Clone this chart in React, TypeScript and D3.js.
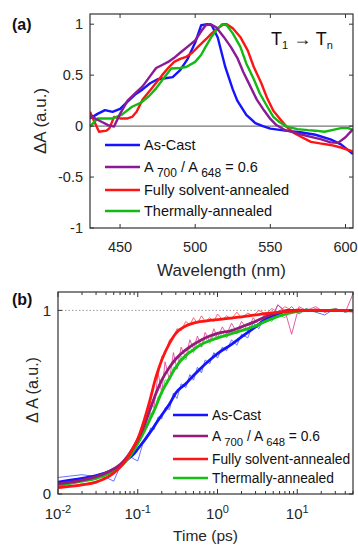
import React, { useRef, useEffect } from 'react';
import * as d3 from 'd3';

// ---------- panel (a): T1 -> Tn spectra ----------
const asCastWl = [430, 435, 440, 445, 450, 455, 460, 465, 470, 475, 480, 485, 490, 495, 500, 504, 508, 511, 515, 520, 525, 528, 534, 540, 545, 550, 560, 570, 580, 590, 597, 605];
const asCastDA = [0.075, 0.12, 0.157, 0.14, 0.17, 0.24, 0.31, 0.36, 0.42, 0.46, 0.47, 0.48, 0.55, 0.66, 0.82, 0.99, 1.0, 0.99, 0.87, 0.58, 0.36, 0.25, 0.11, 0.03, 0.0, -0.025, -0.045, -0.06, -0.085, -0.13, -0.18, -0.275];

const ratioWl = [430, 434, 438, 442, 446, 450, 455, 460, 465, 470, 474, 478, 482, 486, 490, 495, 500, 504, 507, 510, 514, 519, 524, 528, 532, 537, 541, 546, 550, 554, 560, 565, 570, 577, 584, 590, 595, 600, 605];
const ratioDA = [0.11, 0.07, 0.04, 0.01, -0.005, 0.12, 0.25, 0.32, 0.39, 0.49, 0.57, 0.6, 0.63, 0.67, 0.72, 0.78, 0.84, 0.93, 0.99, 1.0, 0.97, 0.875, 0.77, 0.67, 0.53, 0.38, 0.26, 0.15, 0.07, 0.01, -0.04, -0.06, -0.08, -0.105, -0.13, -0.16, -0.165, -0.11, -0.03];

const solventWl = [430, 433, 436, 441, 443, 446, 450, 455, 458, 461, 465, 471, 478, 482, 486, 490, 494, 498, 502, 507, 511, 515, 519, 521, 525, 530, 535, 539, 544, 548, 552, 557, 561, 566, 571, 577, 583, 590, 597, 605];
const solventDA = [0.14, 0.04, -0.055, -0.045, -0.02, 0.09, 0.075, 0.075, 0.09, 0.14, 0.26, 0.37, 0.5, 0.57, 0.63, 0.66, 0.68, 0.72, 0.78, 0.85, 0.91, 0.96, 1.0, 1.0, 0.96, 0.875, 0.74, 0.58, 0.42, 0.27, 0.15, 0.06, -0.01, -0.07, -0.11, -0.155, -0.17, -0.185, -0.21, -0.25];

const thermalWl = [430, 435, 440, 445, 451, 458, 464, 469, 474, 478, 484, 490, 494, 500, 504, 507, 511, 514, 518, 521, 525, 530, 534, 539, 543, 548, 552, 556, 561, 568, 575, 580, 586, 591, 597, 602, 605];
const thermalDA = [-0.005, 0.075, 0.075, 0.075, 0.11, 0.19, 0.23, 0.29, 0.37, 0.45, 0.565, 0.57, 0.58, 0.63, 0.7, 0.78, 0.88, 0.94, 1.0, 0.99, 0.91, 0.78, 0.615, 0.46, 0.32, 0.19, 0.09, 0.04, -0.005, -0.03, -0.04, -0.045, -0.055, -0.04, -0.02, -0.02, -0.04];

const wlTicks = [450, 500, 550, 600];
const daTicks = [-1, -0.5, 0, 0.5, 1];

// ---------- panel (b): kinetics ----------
const fitTime = [0.01, 0.02, 0.03, 0.045, 0.06, 0.07, 0.09, 0.1, 0.12, 0.14, 0.17, 0.2, 0.25, 0.3, 0.4, 0.5, 0.6, 0.8, 1, 1.5, 2, 3, 4, 6, 8, 10, 15, 20, 50];
const fitAsCast = [0.065, 0.085, 0.1, 0.125, 0.155, 0.18, 0.22, 0.245, 0.29, 0.33, 0.385, 0.43, 0.49, 0.55, 0.6, 0.645, 0.68, 0.73, 0.765, 0.815, 0.855, 0.91, 0.95, 0.985, 1.0, 1.0, 1.0, 1.0, 1.0];
const fitRatio = [0.055, 0.075, 0.095, 0.125, 0.16, 0.19, 0.26, 0.295, 0.37, 0.45, 0.55, 0.62, 0.69, 0.735, 0.785, 0.815, 0.835, 0.86, 0.875, 0.89, 0.91, 0.94, 0.965, 0.99, 1.0, 1.0, 1.0, 1.0, 1.0];
const fitSolvent = [0.035, 0.05, 0.065, 0.1, 0.145, 0.18, 0.26, 0.3, 0.4, 0.5, 0.64, 0.73, 0.82, 0.875, 0.915, 0.93, 0.938, 0.945, 0.95, 0.958, 0.965, 0.975, 0.982, 0.99, 0.995, 0.998, 1.0, 1.0, 1.0];
const fitThermal = [0.045, 0.07, 0.085, 0.115, 0.15, 0.175, 0.24, 0.275, 0.34, 0.4, 0.48, 0.555, 0.63, 0.69, 0.755, 0.785, 0.81, 0.835, 0.85, 0.873, 0.89, 0.915, 0.94, 0.97, 0.985, 0.995, 1.0, 1.0, 1.0];

const rawTime = [0.01, 0.02, 0.03, 0.04, 0.05, 0.06, 0.07, 0.08, 0.09, 0.1, 0.115, 0.13, 0.145, 0.16, 0.18, 0.2, 0.22, 0.25, 0.28, 0.31, 0.35, 0.4, 0.45, 0.5, 0.56, 0.63, 0.7, 0.8, 0.9, 1.0, 1.15, 1.3, 1.5, 1.75, 2.0, 2.4, 2.8, 3.3, 4.0, 4.8, 5.7, 7.0, 8.5, 10.5, 13, 17, 22, 30, 40, 50];
const rawAsCast = [0.09, 0.105, 0.095, 0.09, 0.07, 0.15, 0.17, 0.205, 0.19, 0.18, 0.27, 0.3, 0.36, 0.35, 0.42, 0.41, 0.47, 0.46, 0.55, 0.52, 0.6, 0.58, 0.65, 0.62, 0.69, 0.66, 0.73, 0.71, 0.77, 0.74, 0.8, 0.78, 0.84, 0.81, 0.87, 0.85, 0.93, 0.9, 0.98, 0.96, 1.03, 0.99, 1.02, 0.98, 1.01, 0.99, 0.975, 1.01, 0.99, 1.0];
const rawRatio = [0.045, 0.07, 0.1, 0.12, 0.14, 0.15, 0.2, 0.22, 0.27, 0.29, 0.37, 0.4, 0.5, 0.47, 0.66, 0.55, 0.72, 0.62, 0.77, 0.68, 0.8, 0.74, 0.84, 0.79, 0.86, 0.8, 0.88, 0.83, 0.9, 0.85, 0.91, 0.87, 0.93, 0.88, 0.94, 0.89, 0.96, 0.92, 0.99, 0.95, 1.03, 1.0, 0.87, 1.02, 1.0, 1.02, 0.99, 1.01, 0.99, 1.09];
const rawSolvent = [0.03, 0.055, 0.06, 0.09, 0.105, 0.15, 0.17, 0.23, 0.25, 0.31, 0.36, 0.46, 0.51, 0.6, 0.64, 0.75, 0.76, 0.84, 0.85, 0.9, 0.89, 0.94, 0.92, 0.96, 0.93, 0.97, 0.94, 0.96, 0.94, 0.98, 0.95, 0.97, 0.955, 0.99, 0.96, 0.985, 0.97, 1.0, 0.98, 1.01, 0.99, 1.02, 1.0, 1.01, 0.995, 1.01, 0.99, 1.0, 0.995, 0.99];
const rawThermal = [0.05, 0.07, 0.08, 0.1, 0.13, 0.15, 0.18, 0.2, 0.25, 0.27, 0.34, 0.36, 0.44, 0.44, 0.53, 0.54, 0.62, 0.62, 0.69, 0.68, 0.75, 0.73, 0.8, 0.77, 0.83, 0.8, 0.85, 0.82, 0.87, 0.84, 0.88, 0.85, 0.9, 0.87, 0.91, 0.89, 0.93, 0.91, 0.96, 0.94, 0.98, 0.96, 1.0, 0.99, 1.01, 0.99, 1.0, 1.01, 0.99, 1.0];

const timeTicks = [0.01, 0.1, 1, 10];
const timeExponents = ['-2', '-1', '0', '1'];
const kinTicks = [0, 1];

const seriesNames = ['As-Cast', 'ratio', 'Fully solvent-annealed', 'Thermally-annealed'];
const colors = ['#1414ff', '#8a1a96', '#ff1414', '#14b814'];
const fitColors = ['#1414ff', '#981a78', '#ff1414', '#14c014'];
const rawColors = ['#4a5aff', '#e0409a', '#ff4a4a', '#3ccc3c'];

const FONT = "'Liberation Sans', Arial, sans-serif";
const INK = '#262626';

const App = () => {
    const svgRef = useRef(null);

    useEffect(() => {
        const svg = d3.select(svgRef.current);
        svg.selectAll('*').remove();

        // ---------------- panel (a) ----------------
        const a = { left: 90, right: 353, top: 14, bottom: 228 };
        const xA = d3.scaleLinear().domain([430, 605]).range([a.left, a.right]);
        const yA = d3.scaleLinear().domain([-1, 1.1]).range([a.bottom, a.top]);

        const gA = svg.append('g');
        gA.append('defs').append('clipPath').attr('id', 'clipA')
            .append('rect').attr('x', a.left).attr('y', a.top)
            .attr('width', a.right - a.left).attr('height', a.bottom - a.top);

        // zero line
        gA.append('line')
            .attr('x1', a.left).attr('x2', a.right)
            .attr('y1', yA(0)).attr('y2', yA(0))
            .attr('stroke', '#555').attr('stroke-width', 1);

        const specs = [
            [asCastWl, asCastDA],
            [ratioWl, ratioDA],
            [solventWl, solventDA],
            [thermalWl, thermalDA],
        ];
        const lineA = d3.line<number>()
            .x(d => d[0])
            .y(d => d[1]);
        // draw order: blue, red, green, purple to mimic the overlap
        [0, 2, 3, 1].forEach(i => {
            const [wl, da] = specs[i];
            const pts = wl.map((w, k) => [xA(w), yA(da[k])]);
            gA.append('path')
                .attr('d', lineA(pts as any))
                .attr('fill', 'none')
                .attr('stroke', colors[i])
                .attr('stroke-width', 2.4)
                .attr('stroke-linejoin', 'round')
                .attr('clip-path', 'url(#clipA)');
        });

        // box + ticks
        gA.append('rect')
            .attr('x', a.left).attr('y', a.top)
            .attr('width', a.right - a.left).attr('height', a.bottom - a.top)
            .attr('fill', 'none').attr('stroke', '#333').attr('stroke-width', 1.2);

        wlTicks.forEach(t => {
            gA.append('line').attr('x1', xA(t)).attr('x2', xA(t))
                .attr('y1', a.bottom).attr('y2', a.bottom - 4).attr('stroke', '#333');
            gA.append('line').attr('x1', xA(t)).attr('x2', xA(t))
                .attr('y1', a.top).attr('y2', a.top + 4).attr('stroke', '#333');
            gA.append('text').attr('x', xA(t)).attr('y', a.bottom + 24)
                .attr('text-anchor', 'middle').attr('font-size', 14.5)
                .attr('font-family', FONT).attr('fill', INK).text(t);
        });
        daTicks.forEach(t => {
            gA.append('line').attr('x1', a.left).attr('x2', a.left + 4)
                .attr('y1', yA(t)).attr('y2', yA(t)).attr('stroke', '#333');
            gA.append('line').attr('x1', a.right).attr('x2', a.right - 4)
                .attr('y1', yA(t)).attr('y2', yA(t)).attr('stroke', '#333');
            gA.append('text').attr('x', a.left - 7).attr('y', yA(t))
                .attr('dy', '0.36em')
                .attr('text-anchor', 'end').attr('font-size', 14.5)
                .attr('font-family', FONT).attr('fill', INK).text(t);
        });

        gA.append('text')
            .attr('x', (a.left + a.right) / 2).attr('y', 276)
            .attr('text-anchor', 'middle').attr('font-size', 17)
            .attr('font-family', FONT).attr('fill', INK).text('Wavelength (nm)');
        gA.append('text')
            .attr('transform', `translate(46,121) rotate(-90)`)
            .attr('text-anchor', 'middle').attr('font-size', 17)
            .attr('font-family', FONT).attr('fill', INK).text('ΔA (a.u.)');
        gA.append('text')
            .attr('x', 12).attr('y', 30).attr('font-size', 16).attr('font-weight', 'bold')
            .attr('font-family', FONT).attr('fill', '#111').text('(a)');

        // T1 -> Tn
        const tt = gA.append('text').attr('x', 271).attr('y', 45)
            .attr('font-size', 18).attr('font-family', FONT).attr('fill', '#111');
        tt.append('tspan').text('T');
        tt.append('tspan').attr('font-size', 11).attr('dy', 4).text('1');
        tt.append('tspan').attr('dy', -4).text(' → T');
        tt.append('tspan').attr('font-size', 11).attr('dy', 4).text('n');

        const drawLegend = (g, x0, rows, cols, fs) => {
            rows.forEach((cy, i) => {
                g.append('line').attr('x1', x0).attr('x2', x0 + 35)
                    .attr('y1', cy).attr('y2', cy)
                    .attr('stroke', cols[i]).attr('stroke-width', 2.6);
                const txt = g.append('text').attr('x', x0 + 39).attr('y', cy + 5)
                    .attr('font-size', fs).attr('font-family', FONT).attr('fill', '#111');
                if (seriesNames[i] === 'ratio') {
                    txt.append('tspan').text('A ');
                    txt.append('tspan').attr('font-size', fs - 2.5).attr('dy', 5).text('700');
                    txt.append('tspan').attr('dy', -5).text(' / A ');
                    txt.append('tspan').attr('font-size', fs - 2.5).attr('dy', 5).text('648');
                    txt.append('tspan').attr('dy', -5).text(' = 0.6');
                } else {
                    txt.text(seriesNames[i]);
                }
            });
        };
        drawLegend(gA, 105, [145, 167, 190, 211], colors, 14.5);

        // ---------------- panel (b) ----------------
        const b = { left: 58, right: 353, top: 292, bottom: 494 };
        const xB = d3.scaleLog().domain([0.01, 50]).range([b.left, b.right]);
        const yB = d3.scaleLinear().domain([0, 1.1]).range([b.bottom, b.top]);

        const gB = svg.append('g');
        gB.append('defs').append('clipPath').attr('id', 'clipB')
            .append('rect').attr('x', b.left).attr('y', b.top)
            .attr('width', b.right - b.left).attr('height', b.bottom - b.top);

        // dotted line at 1
        gB.append('line')
            .attr('x1', b.left).attr('x2', b.right)
            .attr('y1', yB(1)).attr('y2', yB(1))
            .attr('stroke', '#999').attr('stroke-width', 1)
            .attr('stroke-dasharray', '1.5,2');

        const lineB = d3.line<number>()
            .x(d => d[0])
            .y(d => d[1]);

        const raws = [rawAsCast, rawRatio, rawSolvent, rawThermal];
        const fits = [fitAsCast, fitRatio, fitSolvent, fitThermal];

        [0, 3, 1, 2].forEach(i => {
            const pts = rawTime.map((t, k) => [xB(t), yB(raws[i][k])]);
            gB.append('path')
                .attr('d', lineB(pts as any))
                .attr('fill', 'none')
                .attr('stroke', rawColors[i])
                .attr('stroke-width', 1)
                .attr('opacity', 0.85)
                .attr('clip-path', 'url(#clipB)');
        });

        const smooth = d3.line<number>()
            .x(d => d[0]).y(d => d[1])
            .curve(d3.curveMonotoneX);
        [0, 3, 1, 2].forEach(i => {
            const pts = fitTime.map((t, k) => [xB(t), yB(fits[i][k])]);
            gB.append('path')
                .attr('d', smooth(pts as any))
                .attr('fill', 'none')
                .attr('stroke', fitColors[i])
                .attr('stroke-width', 2.8)
                .attr('clip-path', 'url(#clipB)');
        });

        gB.append('rect')
            .attr('x', b.left).attr('y', b.top)
            .attr('width', b.right - b.left).attr('height', b.bottom - b.top)
            .attr('fill', 'none').attr('stroke', '#333').attr('stroke-width', 1.2);

        // log ticks, major and minor, top and bottom
        const [d0, d1] = xB.domain();
        xB.ticks().filter(t => t >= d0 && t <= d1).forEach(t => {
            const major = timeTicks.includes(t);
            const len = major ? 5 : 3;
            gB.append('line').attr('x1', xB(t)).attr('x2', xB(t))
                .attr('y1', b.bottom).attr('y2', b.bottom - len).attr('stroke', '#333');
            gB.append('line').attr('x1', xB(t)).attr('x2', xB(t))
                .attr('y1', b.top).attr('y2', b.top + len).attr('stroke', '#333');
        });
        timeTicks.forEach((t, i) => {
            const txt = gB.append('text').attr('x', xB(t)).attr('y', 519)
                .attr('text-anchor', 'middle').attr('font-size', 15)
                .attr('font-family', FONT).attr('fill', INK);
            txt.append('tspan').text('10');
            txt.append('tspan').attr('font-size', 11).attr('dy', -6).text(timeExponents[i]);
        });
        kinTicks.forEach(t => {
            gB.append('line').attr('x1', b.left).attr('x2', b.left + 4)
                .attr('y1', yB(t)).attr('y2', yB(t)).attr('stroke', '#333');
            gB.append('line').attr('x1', b.right).attr('x2', b.right - 4)
                .attr('y1', yB(t)).attr('y2', yB(t)).attr('stroke', '#333');
            gB.append('text').attr('x', b.left - 7).attr('y', yB(t))
                .attr('dy', '0.36em')
                .attr('text-anchor', 'end').attr('font-size', 15)
                .attr('font-family', FONT).attr('fill', INK).text(t);
        });

        gB.append('text')
            .attr('x', (b.left + b.right) / 2).attr('y', 541)
            .attr('text-anchor', 'middle').attr('font-size', 15.5)
            .attr('font-family', FONT).attr('fill', INK).text('Time (ps)');
        gB.append('text')
            .attr('transform', `translate(38,390) rotate(-90)`)
            .attr('text-anchor', 'middle').attr('font-size', 16)
            .attr('font-family', FONT).attr('fill', INK).text('Δ A (a.u.)');
        gB.append('text')
            .attr('x', 12).attr('y', 305).attr('font-size', 16).attr('font-weight', 'bold')
            .attr('font-family', FONT).attr('fill', '#111').text('(b)');

        drawLegend(gB, 173, [415, 436, 459, 478], fitColors, 13.8);
    }, []);

    return (
        <svg
            ref={svgRef}
            width={358}
            height={545}
            style={{ position: 'absolute', left: 0, top: 0, background: 'white' }}
        />
    );
};

export default App;
